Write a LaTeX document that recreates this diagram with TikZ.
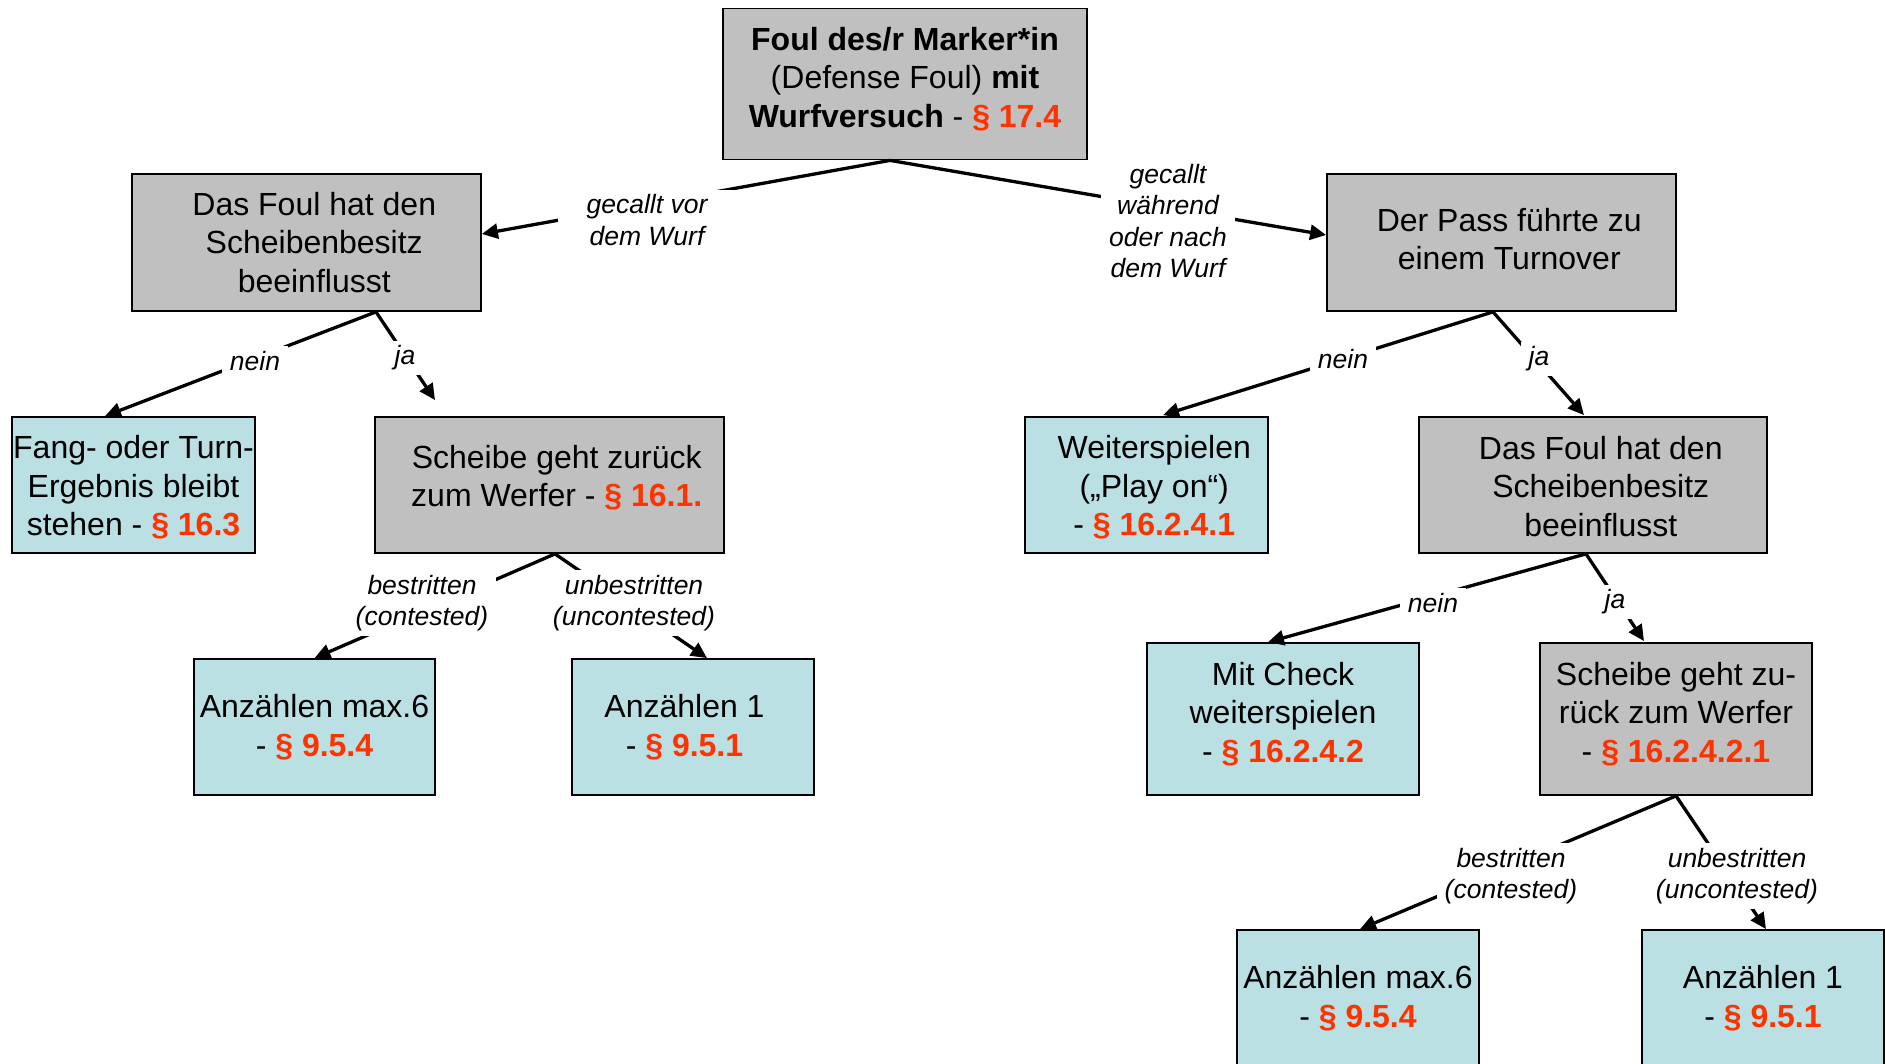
\documentclass[tikz,border=0pt]{standalone}
\usepackage{fontspec}
\setmainfont{Liberation Sans}
\usetikzlibrary{arrows.meta,calc}
\definecolor{boxgray}{RGB}{192,192,192}
\definecolor{boxblue}{RGB}{186,224,227}
\definecolor{parared}{RGB}{255,51,0}
\newcommand{\para}[1]{\textcolor{parared}{\textbf{#1}}}
\newcommand{\dpx}[1]{\rule[-#1]{0pt}{1pt}}
\newcommand{\htx}[1]{\rule{0pt}{#1}}
\newcommand{\ind}[1]{\hspace*{#1}}

\begin{document}
\begin{tikzpicture}[x=1pt,y=-1pt,
  box/.style={draw=black, line width=1.8pt, inner sep=0pt, align=center,
    font=\fontsize{32pt}{38.5pt}\selectfont},
  graybox/.style={box, fill=boxgray},
  bluebox/.style={box, fill=boxblue},
  conn/.style={line width=3.3pt, -{Triangle[length=16pt,width=15pt]}},
  lbl/.style={fill=white, inner xsep=8pt, inner ysep=5pt, align=center,
    font=\itshape\fontsize{26.5pt}{31.3pt}\selectfont},
]
\useasboundingbox[fill=white] (0,0) rectangle (1885,1064);

% boxes
\node[graybox, minimum width=364pt, minimum height=151pt] (T) at (905,84)
  {\textbf{Foul des/r Marker*in}\\(Defense Foul) \textbf{mit}\\\textbf{Wurfversuch} - \para{§ 17.4}\dpx{14pt}};
\node[graybox, minimum width=349pt, minimum height=137pt] (A) at (306.5,242.5)
  {\ind{15.5pt}Das Foul hat den\\\ind{15.5pt}Scheibenbesitz\\\ind{15.5pt}beeinflusst};
\node[graybox, minimum width=349pt, minimum height=137pt] (B) at (1501.5,242.5)
  {\ind{15.5pt}Der Pass führte zu\\\ind{15.5pt}einem Turnover\dpx{7pt}};
\node[bluebox, minimum width=243pt, minimum height=136pt] (C) at (133.5,485)
  {\htx{28pt}Fang- oder Turn-\\Ergebnis bleibt\\stehen - \para{§ 16.3}};
\node[graybox, minimum width=349pt, minimum height=136pt] (D) at (549.5,485)
  {\ind{14.5pt}Scheibe geht zurück\\\ind{14.5pt}zum Werfer - \para{§ 16.1.}\dpx{18pt}};
\node[bluebox, minimum width=243pt, minimum height=136pt] (E) at (1146.5,485)
  {\htx{28.5pt}\ind{15.5pt}Weiterspielen\\\ind{15.5pt}(„Play on“)\\\ind{15.5pt}- \para{§ 16.2.4.1}};
\node[graybox, minimum width=348pt, minimum height=136pt] (F) at (1593,485)
  {\htx{26pt}\ind{15.5pt}Das Foul hat den\\\ind{15.5pt}Scheibenbesitz\\\ind{15.5pt}beeinflusst};
\node[bluebox, minimum width=241pt, minimum height=136pt] (G) at (314.5,727)
  {Anzählen max.6\\- \para{§ 9.5.4}};
\node[bluebox, minimum width=242pt, minimum height=136pt] (H) at (693,727)
  {Anzählen 1\ind{17pt}\\- \para{§ 9.5.1}\ind{17pt}};
\node[bluebox, minimum width=272pt, minimum height=152pt] (I) at (1283,719)
  {Mit Check\\weiterspielen\\- \para{§ 16.2.4.2}\dpx{14pt}};
\node[graybox, minimum width=272pt, minimum height=152pt] (J) at (1676,719)
  {Scheibe geht zu-\\rück zum Werfer\\- \para{§ 16.2.4.2.1}\dpx{14pt}};
\node[bluebox, minimum width=242pt, minimum height=136pt] (K) at (1358,998)
  {Anzählen max.6\\- \para{§ 9.5.4}};
\node[bluebox, minimum width=242pt, minimum height=136pt] (L) at (1763,998)
  {Anzählen 1\\- \para{§ 9.5.1}};

% connector points
\coordinate (Ts) at ($(T.south)+(-15,0)$);
\coordinate (As) at ($(A.south)+(69.5,0)$);
\coordinate (Bs) at ($(B.south)+(-8.5,0)$);
\coordinate (Ds) at ($(D.south)+(5.5,0)$);
\coordinate (Fs) at ($(F.south)+(-7,0)$);
\coordinate (Js) at (J.south);
\coordinate (Ain) at ($(A.east)+(0,-8.5)$);
\coordinate (Bin) at ($(B.west)+(0,-7.5)$);
\coordinate (Cin) at ($(C.north)+(-28.5,0)$);
\coordinate (Din) at ($(D.north)+(-114.5,-16)$);
\coordinate (Gin) at (G.north);
\coordinate (Hin) at ($(H.north)+(14,0)$);
\coordinate (Ein) at ($(E.north)+(16.5,-1)$);
\coordinate (Fin) at ($(F.north)+(-9,-1)$);
\coordinate (Iin) at ($(I.north)+(-15,0)$);
\coordinate (Jin) at ($(J.north)+(-32,-1)$);
\coordinate (Kin) at ($(K.north)+(2,0)$);
\coordinate (Lin) at ($(L.north)+(3,0)$);

% connectors
\draw[conn] (Ts) -- (Ain);
\draw[conn] (Ts) -- (Bin);
\draw[conn] (As) -- (Cin);
\draw[conn] (As) -- (Din);
\draw[conn] (Ds) -- (Gin);
\draw[conn] (Ds) -- (Hin);
\draw[conn] (Bs) -- (Ein);
\draw[conn] (Bs) -- (Fin);
\draw[conn] (Fs) -- (Iin);
\draw[conn] (Fs) -- (Jin);
\draw[conn] (Js) -- (Kin);
\draw[conn] (Js) -- (Lin);

% labels
\node[lbl, inner xsep=29pt] (l1) at (647,220) {gecallt vor\\dem Wurf};
\node[lbl] (l2) at (1168,221) {gecallt\\während\\oder nach\\dem Wurf};
\node[lbl] (l3) at (255,361) {nein};
\node[lbl] (l4) at (405,358) {ja};
\node[lbl] (l5) at (422,603) {bestritten\\(contested)};
\node[lbl] (l6) at (634,603) {unbestritten\\(uncontested)};
\node[lbl] (l7) at (1343,359) {nein};
\node[lbl] (l8) at (1539,359) {ja};
\node[lbl] (l9) at (1433,603) {nein};
\node[lbl] (l10) at (1615,602) {ja};
\node[lbl] (l11) at (1511,876) {bestritten\\(contested)};
\node[lbl] (l12) at (1737,876) {unbestritten\\(uncontested)};
\end{tikzpicture}
\end{document}
